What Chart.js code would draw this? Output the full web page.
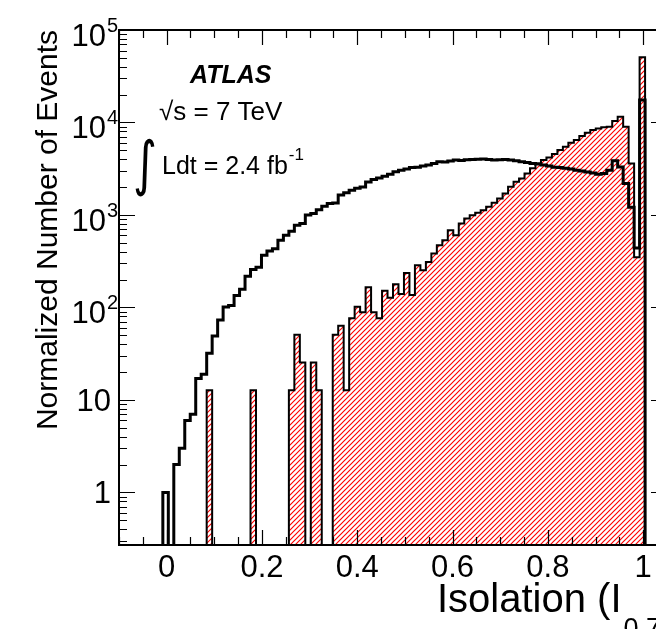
<!DOCTYPE html>
<html>
<head>
<meta charset="utf-8">
<script src="https://cdn.jsdelivr.net/npm/chart.js@4.4.1/dist/chart.umd.min.js"></script>
<style>
  html, body { margin: 0; padding: 0; background: #fff; overflow: hidden; }
  #wrap { position: relative; width: 656px; height: 629px; overflow: hidden; }
  #wrap canvas { position: absolute; left: 0; top: 0; }
</style>
</head>
<body>
<div id="wrap"><canvas id="c" width="700" height="629"></canvas></div>
<script>
const FONT = '"Liberation Sans", Arial, Helvetica, sans-serif';

// histogram binning: 100 bins from -0.1 to 1.05
const binStart = -0.1;
const binWidth = 0.0115;

// black outline histogram (signal)
const signalCounts = [
    0,    0,    0,    0,    0,    0,    0,    0,    1,    0,
    2,    3,    6,    7,   17,   19,   32,   49,   73,  101,
  105,  135,  157,  218,  258,  272,  367,  408,  430,  534,
  604,  668,  776,  810, 1000, 1040, 1140, 1245, 1330, 1350,
 1640, 1740, 1855, 1950, 2010, 2270, 2420, 2510, 2620, 2750,
 2930, 3050, 3150, 3250, 3290, 3380, 3460, 3610, 3770, 3740,
 3840, 3920, 3890, 3960, 3990, 4000, 4030, 3990, 3920, 3960,
 3990, 3920, 3850, 3770, 3690, 3610, 3550, 3460, 3380, 3290,
 3250, 3190, 3140, 3050, 2990, 2920, 2840, 2760, 2810, 3050,
 3850, 3300, 2190, 1210,  440, 17500,   0,    0,    0,    0
];

// red hatched histogram (background)
const backgroundCounts = [
    0,    0,    0,    0,    0,    0,    0,    0,    0,    0,
    0,    0,    0,    0,    0,    0, 12.7,    0,    0,    0,
    0,    0,    0,    0, 12.7,    0,    0,    0,    0,    0,
    0, 12.7, 50.8, 25.4,    0, 25.4, 12.7,    0,    0, 50.8,
 63.5, 12.7, 76.2, 101.6, 88.9, 165, 88.9, 76.2,  152,  127,
  178,  140,  236,  136,  286,  253,  311,  383,  471,  534,
  685,  604,  809,  917,  995, 1054, 1127, 1224, 1353, 1508,
 1709, 2015, 2280, 2480, 2810, 3190, 3610, 3920, 4190, 4550,
 5030, 5460, 6030, 6450, 7130, 7740, 8270, 8630, 8900, 9000,
10400, 11500, 9000, 3610,  350, 50700,   0,    0,    0,    0
];

const xTickValues = [0, 0.2, 0.4, 0.6, 0.8, 1];
const xTickLabels = ['0', '0.2', '0.4', '0.6', '0.8', '1'];
const yTickValues = [1, 10, 100, 1000, 10000, 100000];
const yTickLabels = [['1', ''], ['10', ''], ['10', '2'], ['10', '3'], ['10', '4'], ['10', '5']];

// empty bins sit below the axis so the step outline drops to the frame
function stepPoints(counts) {
    const pts = counts.map((v, i) => ({ x: binStart + i * binWidth, y: v > 0 ? v : 1e-3 }));
    pts.push({ x: binStart + counts.length * binWidth, y: 1e-3 });
    return pts;
}

const canvas = document.getElementById('c');
const ctx0 = canvas.getContext('2d');

function hatchPattern() {
    const p = 5;
    const c = document.createElement('canvas');
    c.width = p; c.height = p;
    const g = c.getContext('2d');
    g.strokeStyle = '#ff0000';
    g.lineWidth = 1.15;
    g.beginPath();
    g.moveTo(-1, p + 1); g.lineTo(p + 1, -1);
    g.moveTo(-1, 1); g.lineTo(1, -1);
    g.moveTo(p - 1, p + 1); g.lineTo(p + 1, p - 1);
    g.stroke();
    return ctx0.createPattern(c, 'repeat');
}

// ROOT style frame: inward ticks on all four sides, labels, titles
const rootFrame = {
    id: 'rootFrame',
    afterDatasetsDraw(chart) {
        const { ctx, chartArea: a, scales: { x, y } } = chart;
        ctx.save();
        ctx.strokeStyle = '#000';
        ctx.fillStyle = '#000';

        ctx.lineWidth = 1.2;
        ctx.beginPath();
        for (let i = -2; i <= 21; i++) {
            const v = i * 0.05;
            if (v < x.min || v > x.max) continue;
            const px = Math.round(x.getPixelForValue(v)) + 0.5;
            const len = i % 4 === 0 ? 15 : 8;
            ctx.moveTo(px, a.bottom); ctx.lineTo(px, a.bottom - len);
            ctx.moveTo(px, a.top); ctx.lineTo(px, a.top + len);
        }
        for (let e = -1; e <= 5; e++) {
            for (let m = 1; m <= 9; m++) {
                const v = m * Math.pow(10, e);
                if (v < y.min || v > y.max * 1.001) continue;
                const py = Math.round(y.getPixelForValue(v)) + 0.5;
                const len = m === 1 ? 16 : 8;
                ctx.moveTo(a.left, py); ctx.lineTo(a.left + len, py);
                ctx.moveTo(a.right, py); ctx.lineTo(a.right - len, py);
            }
        }
        ctx.stroke();

        ctx.lineWidth = 2;
        ctx.strokeRect(a.left, a.top, a.right - a.left, a.bottom - a.top);

        // x tick labels
        ctx.font = `31px ${FONT}`;
        ctx.textAlign = 'center';
        ctx.textBaseline = 'alphabetic';
        xTickValues.forEach((v, i) => {
            ctx.fillText(xTickLabels[i], x.getPixelForValue(v), a.bottom + 32);
        });

        // y tick labels
        yTickValues.forEach((v, i) => {
            const py = y.getPixelForValue(v);
            const [base, sup] = yTickLabels[i];
            ctx.font = `31px ${FONT}`;
            ctx.textAlign = 'right';
            if (sup) {
                ctx.fillText(base, a.left - 13, py + 16);
                ctx.font = `20px ${FONT}`;
                ctx.textAlign = 'left';
                ctx.fillText(sup, a.left - 12, py + 2);
            } else {
                ctx.fillText(base, a.left - 8, py + 11);
            }
        });

        // axis titles
        ctx.font = `30px ${FONT}`;
        ctx.textAlign = 'center';
        ctx.save();
        ctx.translate(57, 230);
        ctx.rotate(-Math.PI / 2);
        ctx.fillText('Normalized Number of Events', 0, 0);
        ctx.restore();

        ctx.textAlign = 'left';
        ctx.font = `40px ${FONT}`;
        let tx = 437;
        ctx.fillText('Isolation (I', tx, 612);
        tx += ctx.measureText('Isolation (I').width + 2;
        ctx.font = `27px ${FONT}`;
        ctx.fillText('0.7', tx, 637);
        tx += ctx.measureText('0.7').width + 2;
        ctx.font = `40px ${FONT}`;
        ctx.fillText(')', tx, 612);

        // ATLAS label
        ctx.font = `italic bold 25px ${FONT}`;
        ctx.fillText('ATLAS', 190, 83);
        ctx.font = `26px ${FONT}`;
        ctx.fillText('\u221As = 7 TeV', 159, 120);
        ctx.save();
        ctx.translate(133, 184);
        ctx.scale(1, 1.3);
        ctx.font = `46px "DejaVu Sans"`;
        ctx.fillText('\u222B', 0, 0);
        ctx.restore();
        ctx.font = `25px ${FONT}`;
        ctx.fillText('Ldt = 2.4 fb', 162, 174);
        const w = ctx.measureText('Ldt = 2.4 fb').width;
        ctx.font = `17px ${FONT}`;
        ctx.fillText('-1', 162 + w + 1, 160);

        ctx.restore();
    }
};

new Chart(canvas, {
    type: 'line',
    plugins: [rootFrame],
    data: {
        datasets: [
            {
                label: 'signal',
                data: stepPoints(signalCounts),
                stepped: true,
                borderColor: '#000',
                borderWidth: 3,
                borderJoinStyle: 'miter',
                fill: false,
                pointRadius: 0,
                clip: 0,
                order: 0,
            },
            {
                label: 'background',
                data: stepPoints(backgroundCounts),
                stepped: true,
                borderColor: '#000',
                borderWidth: 2,
                borderJoinStyle: 'miter',
                backgroundColor: hatchPattern(),
                fill: 'start',
                pointRadius: 0,
                clip: 0,
                order: 1,
            },
        ],
    },
    options: {
        responsive: false,
        animation: false,
        events: [],
        layout: { padding: { left: 119, top: 30, right: 33, bottom: 84 } },
        plugins: {
            legend: { display: false },
            tooltip: { enabled: false },
        },
        scales: {
            x: { type: 'linear', min: -0.1, max: 1.05, display: false },
            y: { type: 'logarithmic', min: 0.27, max: 100000, display: false },
        },
    },
});
</script>
</body>
</html>
